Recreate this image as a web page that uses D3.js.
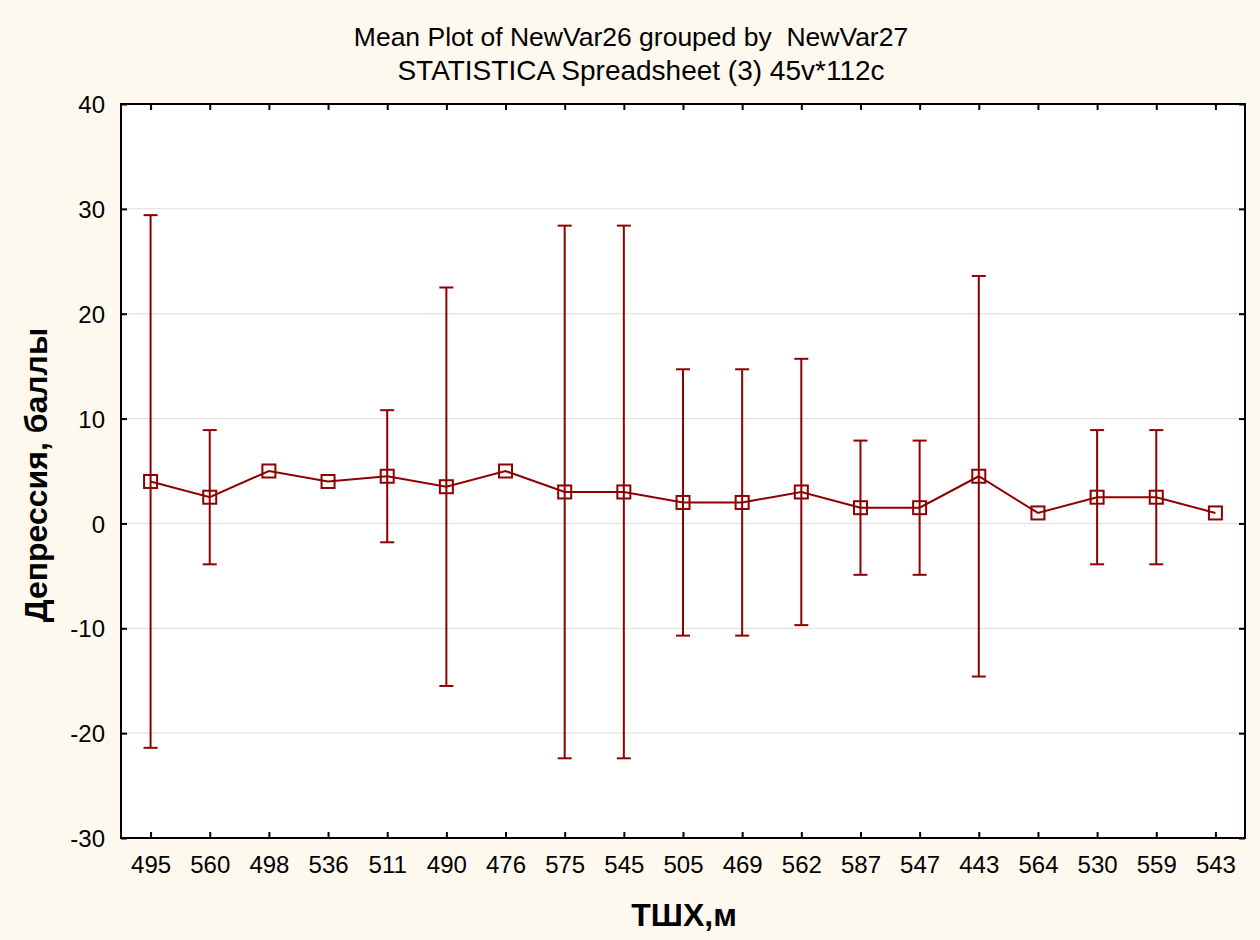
<!DOCTYPE html>
<html>
<head>
<meta charset="utf-8">
<script src="https://cdn.jsdelivr.net/npm/d3@7"></script>
<style>
  html, body { margin: 0; padding: 0; background: #FEF9EF; }
  svg { display: block; }
  text { font-family: "Liberation Sans", Arial, sans-serif; fill: #000; white-space: pre; }
</style>
</head>
<body>
<svg id="chart" width="1260" height="940"></svg>
<script>
// Group labels along the x axis
const categories = ["495", "560", "498", "536", "511", "490", "476", "575", "545", "505",
                    "469", "562", "587", "547", "443", "564", "530", "559", "543"];
// Group means of NewVar26
const means = [4, 2.5, 5, 4, 4.5, 3.5, 5, 3, 3, 2, 2, 3, 1.5, 1.5, 4.5, 1, 2.5, 2.5, 1];
// Upper and lower whisker ends (null where a group has no interval)
const upperWhisker = [29.4, 8.9, null, null, 10.8, 22.5, null, 28.4, 28.4, 14.7,
                      14.7, 15.7, 7.9, 7.9, 23.6, null, 8.9, 8.9, null];
const lowerWhisker = [-21.4, -3.9, null, null, -1.8, -15.5, null, -22.4, -22.4, -10.7,
                      -10.7, -9.7, -4.9, -4.9, -14.6, null, -3.9, -3.9, null];
const yTicks = [-30, -20, -10, 0, 10, 20, 30, 40];

const titleLines = ["Mean Plot of NewVar26 grouped by  NewVar27",
                    "STATISTICA Spreadsheet (3) 45v*112c"];
const xTitle = "ТШХ,м";
const yTitle = "Депрессия, баллы";

const W = 1260, H = 940;
const plot = { left: 121, right: 1245, top: 104, bottom: 838 };
const color = "#8E0000";
const FONT = "'Liberation Sans', Arial, sans-serif";

const svg = d3.select("#chart");
svg.append("rect").attr("width", W).attr("height", H).attr("fill", "#FEF9EF");

const x = d3.scalePoint().domain(categories).range([plot.left, plot.right]).padding(0.5);
const y = d3.scaleLinear().domain([-30, 40]).range([plot.bottom, plot.top]);

// Plot background
svg.append("rect")
  .attr("x", plot.left).attr("y", plot.top)
  .attr("width", plot.right - plot.left).attr("height", plot.bottom - plot.top)
  .attr("fill", "#fff");

// Horizontal grid lines
svg.append("g").selectAll("line")
  .data(yTicks.filter(t => t > -30 && t < 40))
  .join("line")
  .attr("x1", plot.left).attr("x2", plot.right)
  .attr("y1", d => y(d)).attr("y2", d => y(d))
  .attr("stroke", "#dcdcdc").attr("stroke-width", 1);

// Axes with inward ticks on all four sides
const tickLen = 6;
const axisFont = "24px";
const gLeft = svg.append("g").attr("transform", `translate(${plot.left},0)`)
  .call(d3.axisLeft(y).tickValues(yTicks).tickSizeInner(-tickLen).tickSizeOuter(0)
    .tickPadding(16).tickFormat(d => String(d)));
const gRight = svg.append("g").attr("transform", `translate(${plot.right},0)`)
  .call(d3.axisRight(y).tickValues(yTicks).tickSizeInner(-tickLen).tickSizeOuter(0).tickFormat(""));
const gBottom = svg.append("g").attr("transform", `translate(0,${plot.bottom})`)
  .call(d3.axisBottom(x).tickSizeInner(-tickLen).tickSizeOuter(0).tickPadding(17));
const gTop = svg.append("g").attr("transform", `translate(0,${plot.top})`)
  .call(d3.axisTop(x).tickSizeInner(-tickLen).tickSizeOuter(0).tickFormat(""));

[gLeft, gRight, gBottom, gTop].forEach(g => {
  g.attr("font-family", FONT).attr("font-size", axisFont);
  g.select(".domain").remove();
  g.selectAll(".tick line").attr("stroke", "#000").attr("stroke-width", 2);
  g.selectAll(".tick text").attr("fill", "#000");
});
gLeft.selectAll(".tick text").attr("dy", "0.36em");
gBottom.selectAll(".tick text").attr("dy", "0.75em");

// Frame
svg.append("rect")
  .attr("x", plot.left).attr("y", plot.top)
  .attr("width", plot.right - plot.left).attr("height", plot.bottom - plot.top)
  .attr("fill", "none").attr("stroke", "#000").attr("stroke-width", 2);

// Error bars
const capHalf = 7;
const bars = categories.map((c, i) => ({ c, hi: upperWhisker[i], lo: lowerWhisker[i] }))
  .filter(d => d.hi !== null);
const gErr = svg.append("g").attr("stroke", color).attr("stroke-width", 2).attr("fill", "none");
gErr.selectAll("line.v").data(bars).join("line").attr("class", "v")
  .attr("x1", d => x(d.c)).attr("x2", d => x(d.c))
  .attr("y1", d => y(d.hi)).attr("y2", d => y(d.lo));
gErr.selectAll("line.hi").data(bars).join("line").attr("class", "hi")
  .attr("x1", d => x(d.c) - capHalf).attr("x2", d => x(d.c) + capHalf)
  .attr("y1", d => y(d.hi)).attr("y2", d => y(d.hi));
gErr.selectAll("line.lo").data(bars).join("line").attr("class", "lo")
  .attr("x1", d => x(d.c) - capHalf).attr("x2", d => x(d.c) + capHalf)
  .attr("y1", d => y(d.lo)).attr("y2", d => y(d.lo));

// Mean line
const pts = categories.map((c, i) => ({ c, v: means[i] }));
svg.append("path").datum(pts)
  .attr("d", d3.line().x(d => x(d.c)).y(d => y(d.v)))
  .attr("fill", "none").attr("stroke", color).attr("stroke-width", 2);

// Square markers
const ms = 13;
svg.append("g").selectAll("rect").data(pts).join("rect")
  .attr("x", d => x(d.c) - ms / 2).attr("y", d => y(d.v) - ms / 2)
  .attr("width", ms).attr("height", ms)
  .attr("fill", "none").attr("stroke", color).attr("stroke-width", 2);

// Titles
svg.append("text").attr("x", 631).attr("y", 46).attr("text-anchor", "middle")
  .attr("font-family", FONT).attr("font-size", "26.5px").attr("xml:space", "preserve")
  .text(titleLines[0]);
svg.append("text").attr("x", 641).attr("y", 80).attr("text-anchor", "middle")
  .attr("font-family", FONT).attr("font-size", "28px").text(titleLines[1]);

// Axis titles
svg.append("text").attr("x", 684).attr("y", 926).attr("text-anchor", "middle")
  .attr("font-family", FONT).attr("font-size", "32px").attr("font-weight", "bold").text(xTitle);
svg.append("text").attr("transform", "translate(47,475) rotate(-90)").attr("text-anchor", "middle")
  .attr("font-family", FONT).attr("font-size", "32px").attr("font-weight", "bold").text(yTitle);
</script>
</body>
</html>
